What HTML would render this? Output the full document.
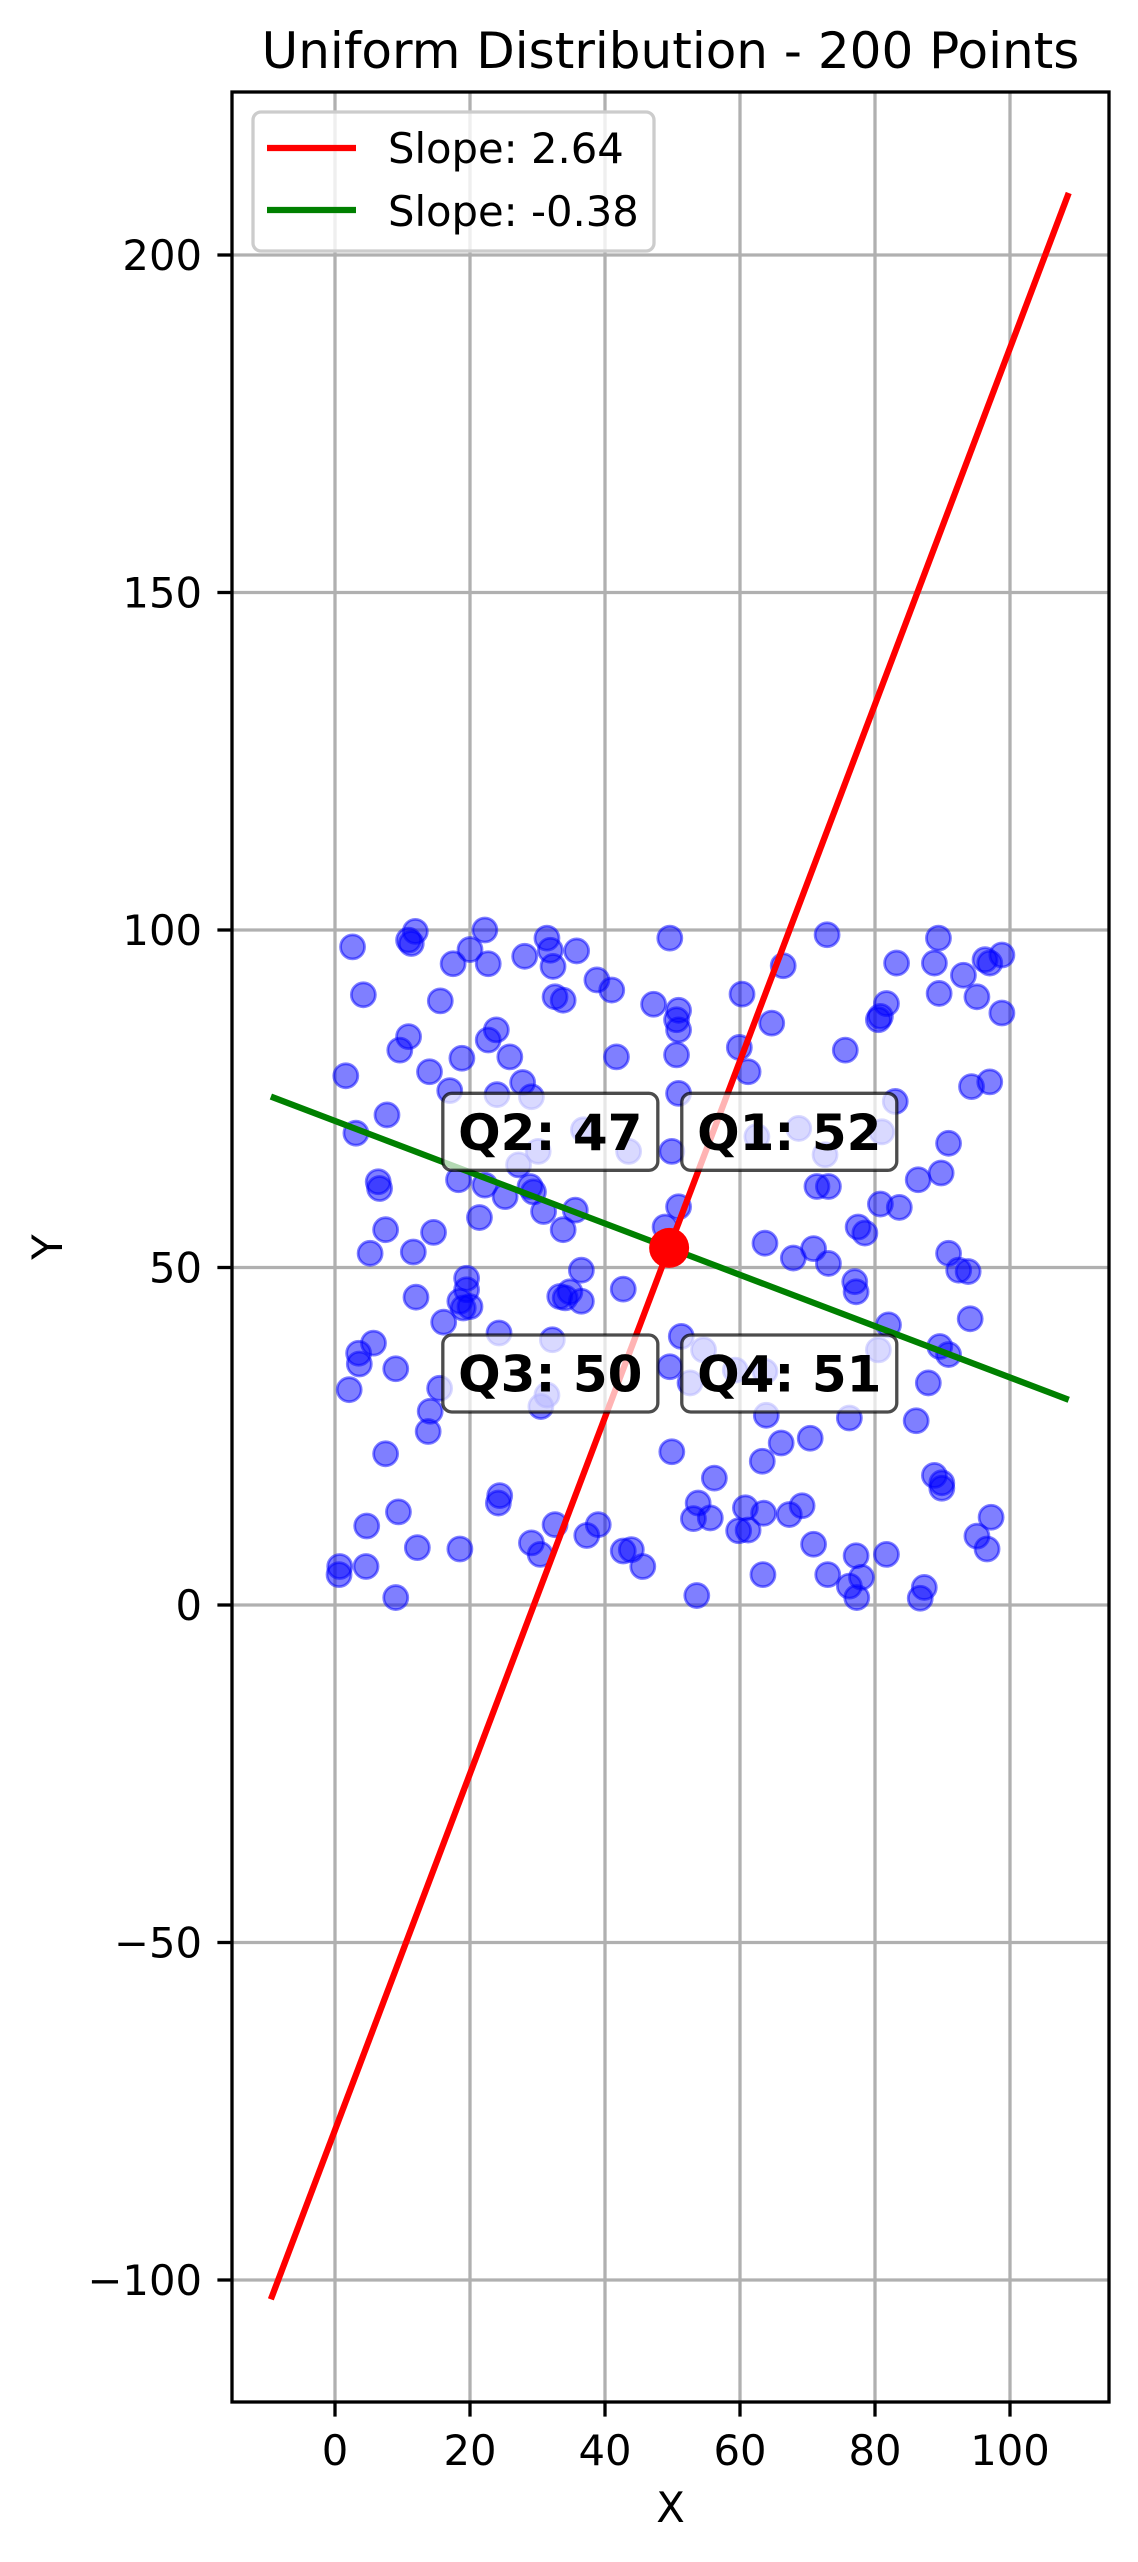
<!DOCTYPE html>
<html>
<head>
<meta charset="utf-8">
<style>
  html,body{margin:0;padding:0;background:#fff;}
  svg{display:block;font-family:"DejaVu Sans","Liberation Sans",sans-serif;}
</style>
</head>
<body>
<svg id="chart" width="1138" height="2562" viewBox="0 0 1138 2562" xmlns="http://www.w3.org/2000/svg">
  <rect x="0" y="0" width="1138" height="2562" fill="#fff"/>
  <g id="grid"></g>
  <g id="points"></g>
  <g id="lines"></g>
  <g id="quads"></g>
  <g id="axes"></g>
  <text x="670.5" y="68" font-size="50" text-anchor="middle">Uniform Distribution - 200 Points</text>
  <text x="670.5" y="2522" font-size="41.7" text-anchor="middle">X</text>
  <text x="0" y="0" font-size="41.7" text-anchor="middle" transform="translate(62,1247) rotate(-90)">Y</text>
  <g>
    <rect x="253" y="112" width="401" height="139" rx="8" fill="#fff" fill-opacity="0.8" stroke="#cccccc" stroke-width="3.3"/>
    <line x1="267" y1="148" x2="356" y2="148" stroke="#ff0000" stroke-width="6.25"/>
    <text x="388" y="163" font-size="41.7">Slope: 2.64</text>
    <line x1="267" y1="210" x2="356" y2="210" stroke="#008000" stroke-width="6.25"/>
    <text x="388" y="226" font-size="41.7">Slope: -0.38</text>
  </g>
</svg>
<script>
const xs = [2.6,11.9,10.9,11.3,22.2,20.0,17.5,22.7,28.1,31.4,31.9,32.3,35.8,38.8,41.0,49.6,4.2,15.6,32.6,33.8,47.2,50.9,50.6,50.9,10.9,9.6,23.9,22.7,25.9,18.8,41.7,50.6,1.6,14.0,17.0,27.8,24.0,29.1,7.7,3.1,50.9,36.8,30.1,43.5,27.2,49.9,6.4,6.6,18.3,22.2,25.2,28.9,29.4,30.9,35.6,33.8,21.4,7.5,14.6,5.2,11.6,48.9,36.5,19.5,50.9,
72.9,66.4,60.3,64.7,59.9,61.2,75.6,81.7,80.8,80.5,83.2,89.4,88.8,93.1,96.3,97.0,98.8,89.5,95.1,98.8,94.3,97.0,83.0,68.7,81.0,62.5,72.6,90.9,71.4,73.1,86.4,89.8,80.8,83.6,77.5,78.5,63.7,67.9,70.9,73.1,90.9,92.4,93.8,77.0,
12.0,19.5,18.5,19.0,20.0,16.1,33.3,34.8,36.5,34.1,42.7,24.3,32.2,5.7,3.5,3.6,9.0,2.1,15.5,14.1,13.8,31.4,30.5,7.5,24.4,24.2,9.4,4.7,32.6,39.0,37.3,29.1,30.4,42.7,43.9,45.6,12.2,18.5,0.7,0.6,4.6,9.0,
51.3,54.6,49.6,52.6,59.3,63.7,49.9,77.2,82.0,80.5,89.6,90.9,94.1,87.9,63.9,76.2,86.1,66.1,70.4,63.3,56.2,53.8,53.1,55.6,60.8,59.8,61.2,63.5,67.3,69.2,70.9,77.2,81.7,73.0,76.2,78.0,77.3,63.4,53.6,88.8,89.9,89.9,95.1,97.2,96.6,87.3,86.7];
const ys = [97.5,99.8,98.5,98.0,100,97.1,95.0,95.0,96.1,98.8,97.0,94.6,96.9,92.6,91.1,98.8,90.4,89.5,90.1,89.6,89.0,88.1,86.7,85.2,84.2,82.2,85.2,83.7,81.2,81.0,81.2,81.5,78.4,79.0,76.2,77.4,75.6,75.3,72.6,69.9,75.8,70.4,67.2,67.2,65.2,67.2,62.7,61.7,63.0,62.2,60.5,62.0,61.2,58.3,58.5,55.6,57.4,55.6,55.2,52.1,52.3,56.0,49.6,48.4,59.0,
99.3,94.7,90.5,86.2,82.6,79.0,82.2,89.1,87.2,86.7,95.1,98.8,95.1,93.3,95.6,95.1,96.3,90.6,90.1,87.7,76.8,77.5,74.6,70.6,70.1,69.4,66.7,68.4,62.0,62.0,63.0,64.0,59.4,58.9,56.0,55.1,53.6,51.4,52.8,50.6,52.1,49.6,49.4,47.9,
45.6,46.7,45.0,44.0,44.2,41.9,45.7,46.4,45.0,45.5,46.8,40.3,39.3,38.8,37.3,35.7,35.0,31.9,32.1,28.7,25.7,31.1,29.4,22.4,16.2,15.1,13.8,11.7,11.9,11.9,10.3,9.2,7.5,8.0,8.2,5.7,8.5,8.3,5.7,4.5,5.7,1.1,
39.8,37.8,35.3,32.9,34.8,34.6,22.7,46.4,41.5,37.8,38.3,37.1,42.4,32.9,28.1,27.7,27.3,24.0,24.7,21.3,18.8,15.1,12.8,12.9,14.4,11.0,11.1,13.6,13.4,14.7,9.0,7.3,7.5,4.5,2.8,4.1,1.1,4.5,1.4,19.2,18.1,17.3,10.2,13.0,8.3,2.6,1.0];
const xTicks = [0,20,40,60,80,100];
const yTicks = [-100,-50,0,50,100,150,200];
const lineNames = ["red-fit-line","green-fit-line"];
const lineSlopes = [2.64,-0.38];
const lineColors = ["#ff0000","#008000"];
const lineXRange = [-9.5,108.7];
const centerPt = [49.5,52.9];
const quadNames = ["Q1","Q2","Q3","Q4"];
const quadCounts = [52,47,50,51];
const quadX = [67.3,31.9,31.9,67.3];
const quadY = [70.1,70.1,34.3,34.3];

const NS = "http://www.w3.org/2000/svg";
const AX = {l:232,r:1109,t:92,b:2402};
function sx(v){return 335 + 6.75*v;}
function sy(v){return 1605 - 6.75*v;}
function mk(tag, attrs, parent){
  const e = document.createElementNS(NS, tag);
  for (const k in attrs) e.setAttribute(k, attrs[k]);
  parent.appendChild(e);
  return e;
}
const grid = document.getElementById('grid');
const axes = document.getElementById('axes');
xTicks.forEach(t=>{
  const g = mk('line',{x1:sx(t),x2:sx(t),y1:AX.t,y2:AX.b,stroke:'#b0b0b0','stroke-width':3.3},grid);
  
  
  const tk = mk('line',{x1:sx(t),x2:sx(t),y1:AX.b,y2:AX.b+14.6,stroke:'#000','stroke-width':3.3},axes);
  
  
  const lb = mk('text',{x:sx(t),y:2465,'font-size':41.7,'text-anchor':'middle'},axes);
  lb.textContent = String(t);
  
  
});
yTicks.forEach(t=>{
  const g = mk('line',{x1:AX.l,x2:AX.r,y1:sy(t),y2:sy(t),stroke:'#b0b0b0','stroke-width':3.3},grid);
  
  
  const tk = mk('line',{x1:AX.l-14.6,x2:AX.l,y1:sy(t),y2:sy(t),stroke:'#000','stroke-width':3.3},axes);
  
  
  const lb = mk('text',{x:202,y:sy(t)+15,'font-size':41.7,'text-anchor':'end'},axes);
  lb.textContent = t<0 ? '\u2212'+Math.abs(t) : String(t);
  
  
});
const frame = mk('rect',{x:AX.l,y:AX.t,width:AX.r-AX.l,height:AX.b-AX.t,fill:'none',stroke:'#000','stroke-width':3.3},axes);



const pts = document.getElementById('points');
for (let i=0;i<xs.length;i++){
  const c = mk('circle',{cx:sx(xs[i]),cy:sy(ys[i]),r:12,fill:'#0000ff','fill-opacity':0.5,stroke:'#0000ff','stroke-opacity':0.5,'stroke-width':2.8},pts);
  
  
}
const lines = document.getElementById('lines');
for (let i=0;i<lineSlopes.length;i++){
  const y0 = centerPt[1] + lineSlopes[i]*(lineXRange[0]-centerPt[0]);
  const y1 = centerPt[1] + lineSlopes[i]*(lineXRange[1]-centerPt[0]);
  const l = mk('line',{x1:sx(lineXRange[0]),y1:sy(y0),x2:sx(lineXRange[1]),y2:sy(y1),stroke:lineColors[i],'stroke-width':6.25},lines);
  
  
}
const dot = mk('circle',{cx:sx(centerPt[0]),cy:sy(centerPt[1]),r:20,fill:'#ff0000'},lines);



const quads = document.getElementById('quads');
for (let i=0;i<quadNames.length;i++){
  const cx = sx(quadX[i]), cy = sy(quadY[i]);
  const w = 215, h = 77;
  const b = mk('rect',{x:cx-w/2,y:cy-h/2,width:w,height:h,rx:9,fill:'#fff','fill-opacity':0.7,stroke:'#000','stroke-opacity':0.7,'stroke-width':3.3},quads);
  
  
  const t = mk('text',{x:cx,y:cy+18,'font-size':50,'font-weight':'bold','text-anchor':'middle'},quads);
  t.textContent = quadNames[i]+': '+quadCounts[i];
  
  
}
</script>
</body>
</html>
